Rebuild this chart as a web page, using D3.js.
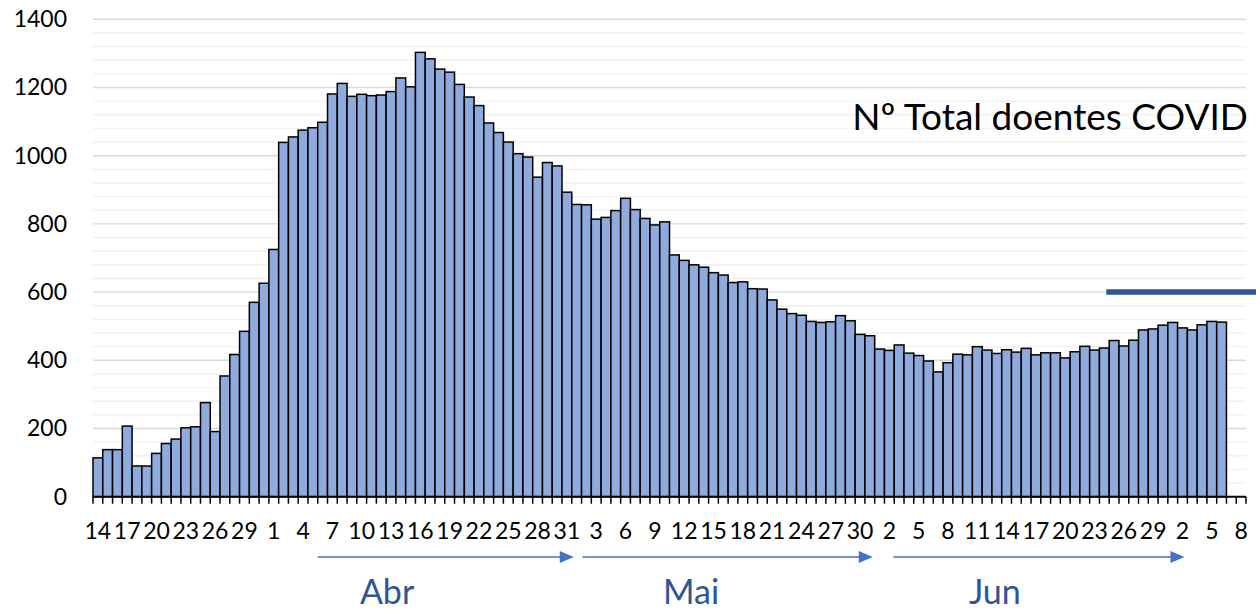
<!DOCTYPE html>
<html>
<head>
<meta charset="utf-8">
<script src="https://cdn.jsdelivr.net/npm/d3@7"></script>
<style>
  html, body { margin: 0; padding: 0; background: #fff; }
  svg { display: block; }
  text { font-family: Lato, "Open Sans", sans-serif; }
</style>
</head>
<body>
<svg id="chart" width="1256" height="611"></svg>
<script>
// ---- data ----
const categoryCount = 118;
const values = [114,138,138,207,90,90,127,156,169,202,205,276,191,354,417,485,570,626,725,1039,
  1055,1075,1082,1098,1181,1212,1174,1180,1176,1178,1188,1228,1202,1303,1284,1254,1245,1209,1172,1147,
  1096,1068,1040,1006,996,937,980,970,893,857,856,814,819,839,875,842,816,797,806,709,
  693,680,673,657,650,628,630,610,609,577,550,537,532,514,511,513,531,516,476,472,
  433,429,445,421,414,398,366,393,418,416,440,430,420,431,424,435,416,422,422,407,
  425,441,430,436,458,442,459,489,492,503,511,495,489,504,514,512];
const tickLabels = ["14","17","20","23","26","29","1","4","7","10","13","16","19","22","25","28","31",
  "3","6","9","12","15","18","21","24","27","30","2","5","8","11","14","17","20","23","26","29","2","5","8"];
const labelStep = 3;
const yMax = 1400, yMajor = 200, yMinor = 40;
const title = "Nº Total doentes COVID";
const months = ["Abr", "Mai", "Jun"];
const monthFrom = [23, 50.1, 81.9];
const monthTo = [49.2, 79.8, 111.7];
const monthTextAt = [30.1, 61.2, 92.3];
const refValue = 600;
const refFrom = 103.7;

// ---- layout ----
const svg = d3.select("#chart");
const W = 1256, H = 611;
const plot = {left: 93, right: 1246, top: 19.3, bottom: 496.7};

const x = d3.scaleBand().domain(d3.range(categoryCount)).range([plot.left, plot.right]).padding(0);
const xc = v => plot.left + v * x.step();      // continuous category position
const y = d3.scaleLinear().domain([0, yMax]).range([plot.bottom, plot.top]);

// gridlines
const minorVals = d3.range(yMinor, yMax + 1, yMinor).filter(v => v % yMajor !== 0);
const majorVals = d3.range(yMajor, yMax + 1, yMajor);
svg.append("g").selectAll("line").data(minorVals).join("line")
  .attr("x1", plot.left).attr("x2", plot.right)
  .attr("y1", d => y(d)).attr("y2", d => y(d))
  .attr("stroke", "#F0F0F0").attr("stroke-width", 1.4);
svg.append("g").selectAll("line").data(majorVals).join("line")
  .attr("x1", plot.left).attr("x2", plot.right)
  .attr("y1", d => y(d)).attr("y2", d => y(d))
  .attr("stroke", "#D9D9D9").attr("stroke-width", 1.4);

// y axis labels
const yAxis = d3.axisLeft(y).tickValues(d3.range(0, yMax + 1, yMajor))
  .tickFormat(d3.format("d")).tickSize(0).tickPadding(26);
const gy = svg.append("g").attr("transform", `translate(${plot.left},0)`).call(yAxis);
gy.select(".domain").remove();
gy.selectAll("text").attr("font-size", 23).attr("fill", "#000")
  .attr("font-family", "Lato, 'Open Sans', sans-serif");

// bars
svg.append("g").selectAll("rect").data(values).join("rect")
  .attr("x", (d, i) => x(i))
  .attr("width", x.bandwidth())
  .attr("y", d => y(d))
  .attr("height", d => y(0) - y(d))
  .attr("fill", "#8FAADC")
  .attr("stroke", "#000").attr("stroke-width", 1.5);

// x axis line and ticks at category boundaries
const gx = svg.append("g");
gx.append("line").attr("x1", plot.left).attr("x2", plot.right)
  .attr("y1", y(0)).attr("y2", y(0)).attr("stroke", "#000").attr("stroke-width", 2);
gx.selectAll("line.tk").data(d3.range(categoryCount + 1)).join("line").attr("class", "tk")
  .attr("x1", d => xc(d)).attr("x2", d => xc(d))
  .attr("y1", y(0)).attr("y2", y(0) + 7)
  .attr("stroke", "#000").attr("stroke-width", 1.5);
gx.selectAll("text").data(tickLabels).join("text")
  .attr("x", (d, i) => x(i * labelStep) + x.bandwidth() / 2)
  .attr("y", 539)
  .attr("text-anchor", "middle")
  .attr("font-size", 23)
  .attr("fill", "#000")
  .text(d => d);

// reference line
svg.append("line")
  .attr("x1", xc(refFrom)).attr("x2", W)
  .attr("y1", y(refValue)).attr("y2", y(refValue))
  .attr("stroke", "#2F5597").attr("stroke-width", 5.5);

// title text
svg.append("text").attr("x", plot.right + 2).attr("y", 130)
  .attr("text-anchor", "end").attr("font-size", 37).attr("fill", "#000")
  .text(title);

// month arrows
const arrowY = 557;
const ga = svg.append("g");
months.forEach((m, i) => {
  const x1 = xc(monthFrom[i]), x2 = xc(monthTo[i]);
  ga.append("line").attr("x1", x1).attr("x2", x2 - 12)
    .attr("y1", arrowY).attr("y2", arrowY)
    .attr("stroke", "#4472C4").attr("stroke-width", 1.5);
  ga.append("path")
    .attr("d", `M${x2},${arrowY} L${x2 - 14},${arrowY - 6} L${x2 - 14},${arrowY + 6} Z`)
    .attr("fill", "#4472C4");
  ga.append("text").attr("x", xc(monthTextAt[i])).attr("y", 604)
    .attr("text-anchor", "middle").attr("font-size", 34).attr("fill", "#2F5597")
    .text(m);
});
</script>
</body>
</html>
